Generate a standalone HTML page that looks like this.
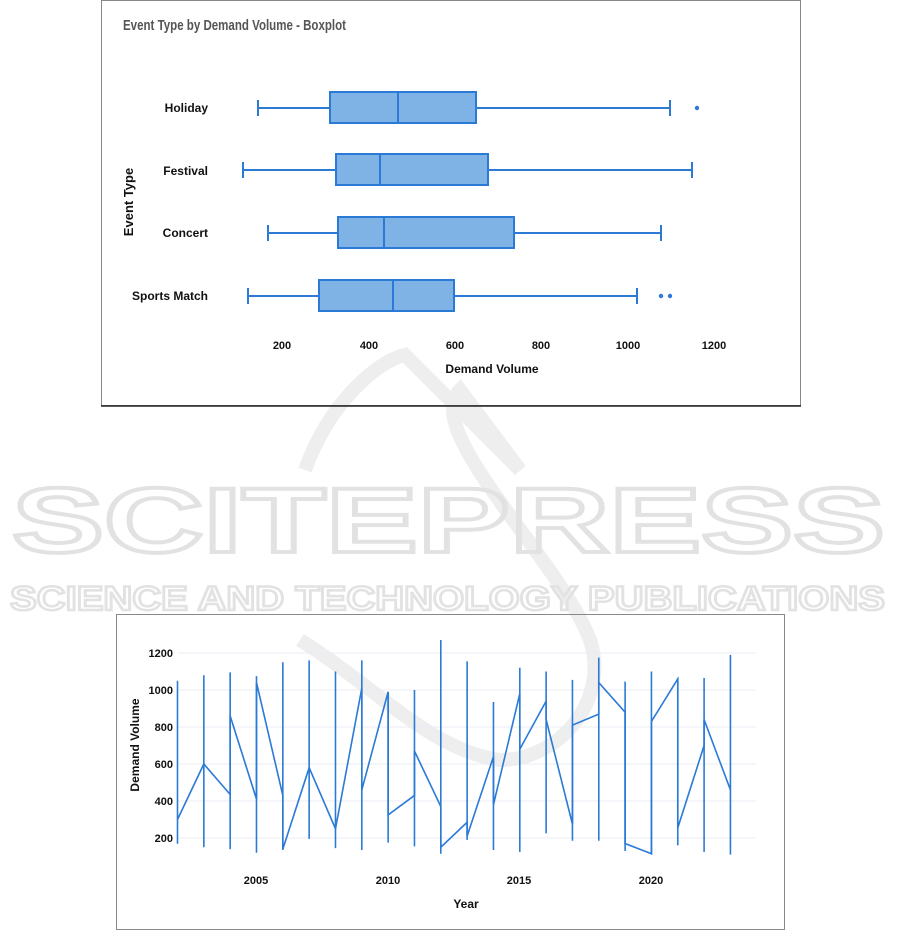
<!DOCTYPE html>
<html><head><meta charset="utf-8"><style>
html,body{margin:0;padding:0;background:#fff;}
svg{display:block;font-family:"Liberation Sans",sans-serif;}
</style></head><body>
<svg id="s" width="901" height="931" xmlns="http://www.w3.org/2000/svg">
<!-- watermark -->
<path d="M305,470 C330,400 380,360 405,355 L520,470 L460,390 C420,430 560,560 590,640 C610,700 560,760 500,760 C430,750 380,690 300,640" fill="none" stroke="#eeeeee" stroke-width="14"/>
<text x="12" y="552" font-size="92" font-weight="bold" textLength="873" lengthAdjust="spacingAndGlyphs" fill="none" stroke="#e2e2e2" stroke-width="4">SCITEPRESS</text>
<text x="10" y="610" font-size="34" font-weight="bold" textLength="875" lengthAdjust="spacingAndGlyphs" fill="none" stroke="#e2e2e2" stroke-width="2.5">SCIENCE AND TECHNOLOGY PUBLICATIONS</text>

<!-- top chart frame -->
<rect x="101.5" y="0.5" width="699" height="405" fill="none" stroke="#888" stroke-width="1"/>
<line x1="101" y1="406" x2="801" y2="406" stroke="#222" stroke-width="1.5"/>
<text x="123" y="30" font-size="15" font-weight="bold" fill="#555" textLength="223" lengthAdjust="spacingAndGlyphs">Event Type by Demand Volume - Boxplot</text>
<g id="box"></g>
<g font-size="11" font-weight="bold" fill="#111" text-anchor="middle">
<text x="282" y="349">200</text><text x="369" y="349">400</text><text x="455" y="349">600</text><text x="541" y="349">800</text><text x="628" y="349">1000</text><text x="714" y="349">1200</text>
<text x="492" y="373" font-size="12">Demand Volume</text>
<text transform="translate(133,202) rotate(-90)" font-size="13">Event Type</text>
</g>
<g font-size="12" font-weight="bold" fill="#111" text-anchor="end">
<text x="208" y="112">Holiday</text><text x="208" y="175">Festival</text><text x="208" y="237">Concert</text><text x="208" y="300">Sports Match</text>
</g>

<!-- bottom chart -->
<rect x="116.5" y="614.5" width="668" height="315" fill="none" stroke="#888" stroke-width="1"/>
<g id="grid"></g>
<g id="line"></g>
<g font-size="11" font-weight="bold" fill="#111">
<g text-anchor="end"><text x="173" y="657">1200</text><text x="173" y="694">1000</text><text x="173" y="731">800</text><text x="173" y="768">600</text><text x="173" y="805">400</text><text x="173" y="842">200</text></g>
<g text-anchor="middle"><text x="256" y="884">2005</text><text x="388" y="884">2010</text><text x="519" y="884">2015</text><text x="651" y="884">2020</text>
<text x="466" y="908" font-size="12">Year</text>
<text transform="translate(139,745) rotate(-90)" font-size="12">Demand Volume</text></g>
</g>
</svg>
<script>
var NS="http://www.w3.org/2000/svg";
function el(p,t,a){var e=document.createElementNS(NS,t);for(var k in a)e.setAttribute(k,a[k]);document.getElementById(p).appendChild(e);return e;}
var C="#2a7ad6";
var rows=[[108,258,330,398,476,670,[697]],[170,243,336,380,488,692,[]],[233,268,338,384,514,661,[]],[296,248,319,393,454,637,[661,670]]];
rows.forEach(function(r){var y=r[0];
el("box","line",{x1:r[1],y1:y,x2:r[2],y2:y,stroke:C,"stroke-width":2});
el("box","line",{x1:r[4],y1:y,x2:r[5],y2:y,stroke:C,"stroke-width":2});
el("box","line",{x1:r[1],y1:y-8,x2:r[1],y2:y+8,stroke:C,"stroke-width":2});
el("box","line",{x1:r[5],y1:y-8,x2:r[5],y2:y+8,stroke:C,"stroke-width":2});
el("box","rect",{x:r[2],y:y-16,width:r[4]-r[2],height:31,fill:"#7fb2e5",stroke:C,"stroke-width":2});
el("box","line",{x1:r[3],y1:y-16,x2:r[3],y2:y+15,stroke:C,"stroke-width":2});
r[6].forEach(function(o){el("box","circle",{cx:o,cy:y,r:2.2,fill:C});});
});
function Y(v){return 838-(v-200)*0.185;}
function X(yr){return 177.5+(yr-2002)*26.33;}
[200,400,600,800,1000,1200].forEach(function(v){el("grid","line",{x1:178,y1:Y(v),x2:756,y2:Y(v),stroke:"#e8ecf4","stroke-width":1});});
var d=[[169,1050,300,300],[150,1080,600,600],[140,1095,435,860],[120,1075,410,1040],[135,1150,430,140],[195,1160,580,580],[145,1100,250,250],[135,1160,1010,460],[175,990,990,325],[155,1000,430,670],[115,1270,370,150],[190,1155,285,210],[135,935,640,380],[125,1120,980,680],[225,1100,940,840],[185,1055,275,810],[185,1175,870,1040],[130,1045,880,170],[110,1100,115,830],[160,1065,1060,255],[125,1065,700,840],[110,1190,460,460]];
var pts=[];
d.forEach(function(a,i){var x=X(2002+i);
el("line","line",{x1:x,y1:Y(a[0]),x2:x,y2:Y(a[1]),stroke:C,"stroke-width":1.6});
pts.push(x+","+Y(a[2]));pts.push(x+","+Y(a[3]));});
el("line","polyline",{points:pts.join(" "),fill:"none",stroke:C,"stroke-width":1.6});
</script>
</body></html>
